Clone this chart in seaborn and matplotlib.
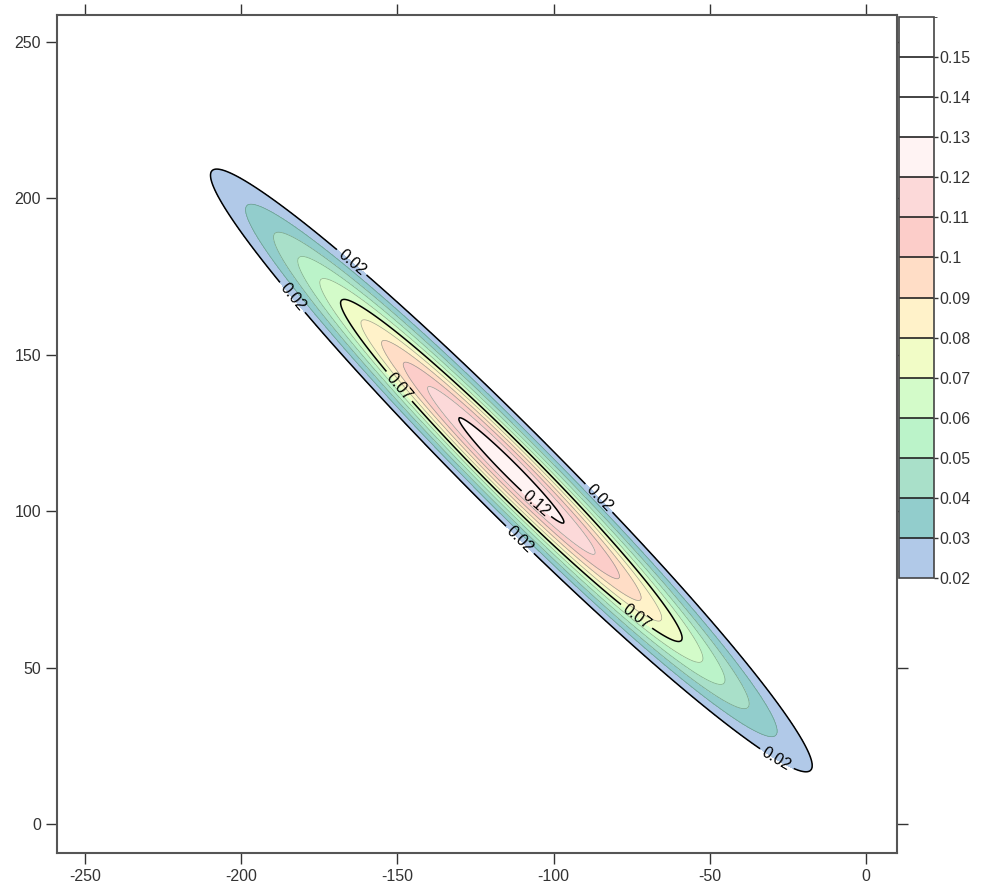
import numpy as np
import matplotlib
matplotlib.use("Agg")
import matplotlib.pyplot as plt
import seaborn as sns
from matplotlib.colors import ListedColormap, BoundaryNorm

# ---- data ----
center_x = -113.5
center_y = 113.0
peak_value = 0.127
sigma_major = 70.5
sigma_minor = 7.2
angle_deg = -45.0

levels = [0.02, 0.03, 0.04, 0.05, 0.06, 0.07, 0.08, 0.09, 0.10,
          0.11, 0.12, 0.13, 0.14, 0.15, 0.16]
level_colors = ["#b1c9e8", "#92cdcc", "#a9e0c9", "#bbf3c9", "#d3fbc9",
                "#f1fcc6", "#fff2c9", "#ffddc6", "#fccdc9", "#fcd9d9",
                "#fff3f3", "#ffffff", "#ffffff", "#ffffff"]
labeled_levels = [0.02, 0.07, 0.12]
cbar_tick_values = [0.02, 0.03, 0.04, 0.05, 0.06, 0.07, 0.08, 0.09, 0.1,
                    0.11, 0.12, 0.13, 0.14, 0.15]
cbar_tick_labels = ["0.02", "0.03", "0.04", "0.05", "0.06", "0.07", "0.08",
                    "0.09", "0.1", "0.11", "0.12", "0.13", "0.14", "0.15"]
x_ticks = [-250, -200, -150, -100, -50, 0]
y_ticks = [0, 50, 100, 150, 200, 250]
label_positions = [(-164.5, 179.7), (-183.4, 168.5), (-150.8, 138.7),
                   (-85.1, 104.5), (-104.4, 103.6), (-110.8, 90.8),
                   (-75.5, 63.6), (-29.1, 19.8)]

# ---- style ----
sns.set_style("ticks")
plt.rcParams["font.family"] = ["Liberation Sans", "DejaVu Sans"]
plt.rcParams["axes.unicode_minus"] = False
plt.rcParams["axes.edgecolor"] = "#555555"
plt.rcParams["xtick.color"] = "#333333"
plt.rcParams["ytick.color"] = "#333333"

fig = plt.figure(figsize=(9.83, 8.89), dpi=100)
ax = fig.add_axes([57 / 983, 1 - 853 / 889, 840 / 983, 838 / 889])

# grid surface
gx = np.linspace(-259, 10, 600)
gy = np.linspace(-9.3, 258.6, 600)
X, Y = np.meshgrid(gx, gy)
th = np.deg2rad(angle_deg)
U = (X - center_x) * np.cos(th) + (Y - center_y) * np.sin(th)
V = -(X - center_x) * np.sin(th) + (Y - center_y) * np.cos(th)
Z = peak_value * np.exp(-0.5 * ((U / sigma_major) ** 2 + (V / sigma_minor) ** 2))

cmap = ListedColormap(level_colors)
norm = BoundaryNorm(levels, cmap.N)
cf = ax.contourf(X, Y, Z, levels=levels, cmap=cmap, norm=norm)

thin_levels = [l for l in levels[:-1] if round(l, 2) not in labeled_levels]
ax.contour(X, Y, Z, levels=thin_levels, colors="#4a6a5a", linewidths=0.5, alpha=0.55)
cs = ax.contour(X, Y, Z, levels=labeled_levels, colors="black", linewidths=1.1)
ax.clabel(cs, fmt="%.2f", fontsize=11.5, inline=True, inline_spacing=4,
          manual=label_positions)

ax.set_xlim(-259, 10)
ax.set_ylim(-9.3, 258.6)
ax.set_xticks(x_ticks)
ax.set_yticks(y_ticks)
ax.tick_params(axis="both", direction="out", length=8, width=1, labelsize=11.5,
               top=True, right=True, labeltop=False, labelright=False)
for s in ax.spines.values():
    s.set_linewidth(1.5)
    s.set_color("#555555")

# colorbar
cax = fig.add_axes([899 / 983, 1 - 578 / 889, 35 / 983, 561 / 889])
cb = fig.colorbar(cf, cax=cax, drawedges=True)
cb.set_ticks(cbar_tick_values)
cb.set_ticklabels(cbar_tick_labels)
cb.outline.set_linewidth(1.2)
cb.outline.set_edgecolor("#444444")
cb.dividers.set_color("#222222")
cb.dividers.set_linewidth(1.2)
cax.tick_params(direction="out", length=3, width=1, labelsize=11.5, pad=1)

fig.savefig("out.png", dpi=100)
